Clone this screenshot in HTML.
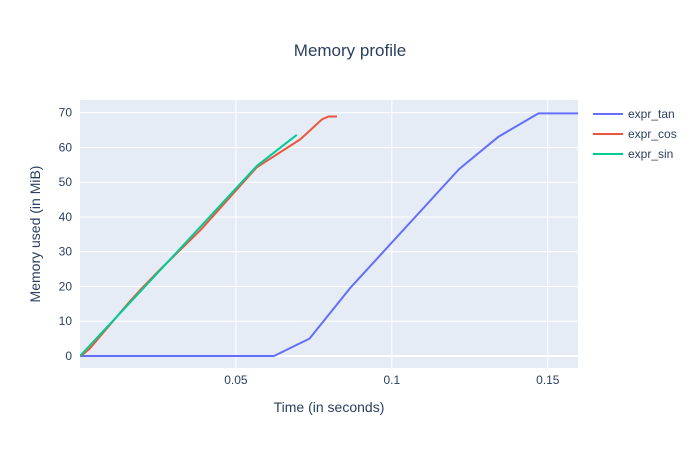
<!DOCTYPE html>
<html><head><meta charset="utf-8"><style>
body{margin:0;background:#fff;}
svg text{font-family:"Liberation Sans",sans-serif;fill:#2a3f5f;}
</style></head><body>
<svg id="chart" width="700" height="450"></svg>
<script>
const tanX=[0,0.0622,0.0736,0.0866,0.1216,0.1342,0.147,0.16];
const tanY=[0,0,5,19.5,53.8,63.1,69.8,69.8];
const cosX=[0.0003,0.003,0.0156,0.0193,0.0255,0.0386,0.0567,0.0706,0.0733,0.0776,0.0797,0.0824];
const cosY=[0,2,15.3,19,24.7,36.2,54.3,62.3,64.5,68.1,68.9,68.9];
const sinX=[0,0.0193,0.0567,0.0695];
const sinY=[0,18.5,54.7,63.6];
const xTicks=[0.05,0.1,0.15];
const xTickLabels=["0.05","0.1","0.15"];
const yTicks=[0,10,20,30,40,50,60,70];
const seriesNames=["expr_tan","expr_cos","expr_sin"];
const seriesColors=["#636efa","#EF553B","#00cc96"];

const L=80,R=578,T=100,B=368;
const xMin=0,xMax=0.1597;
const yAt0=356,pxPer10=34.76;
const sx=v=>L+(v-xMin)/(xMax-xMin)*(R-L);
const sy=v=>yAt0-v/10*pxPer10;
const NS="http://www.w3.org/2000/svg";
const svg=document.getElementById('chart');
function mk(tag,attrs,parent){const e=document.createElementNS(NS,tag);for(const k in attrs)e.setAttribute(k,attrs[k]);(parent||svg).appendChild(e);return e;}

const bg=mk('rect',{x:L,y:T,width:R-L,height:B-T,fill:'#e5ecf6'});



yTicks.forEach(t=>{
  const g=mk('line',{x1:L,x2:R,y1:sy(t),y2:sy(t),stroke:'#fff','stroke-width':t===0?2:1});
  
  
  const tx=mk('text',{x:L-8,y:sy(t)+4,'text-anchor':'end','font-size':12});
  tx.textContent=t;
  
  
});
xTicks.forEach((t,i)=>{
  const g=mk('line',{x1:sx(t),x2:sx(t),y1:T,y2:B,stroke:'#fff','stroke-width':1});
  
  
  const tx=mk('text',{x:sx(t),y:B+16,'text-anchor':'middle','font-size':12});
  tx.textContent=xTickLabels[i];
  
  
});

const clip=mk('clipPath',{id:'clip'});
mk('rect',{x:L,y:T,width:R-L,height:B-T},clip);

const data=[[tanX,tanY],[cosX,cosY],[sinX,sinY]];
data.forEach((d,i)=>{
  const pts=d[0].map((x,j)=>sx(x).toFixed(1)+','+sy(d[1][j]).toFixed(1)).join(' ');
  const p=mk('polyline',{points:pts,fill:'none',stroke:seriesColors[i],'stroke-width':2,'stroke-linejoin':'round','clip-path':'url(#clip)'});
  
  
});

seriesNames.forEach((n,i)=>{
  const y=114+i*20;
  const g=mk('g',{});
  
  
  mk('line',{x1:593,x2:623,y1:y,y2:y,stroke:seriesColors[i],'stroke-width':2},g);
  const t=mk('text',{x:628,y:y+4,'font-size':12},g);
  t.textContent=n;
});

const title=mk('text',{x:350,y:56,'text-anchor':'middle','font-size':17});
title.textContent='Memory profile';


const xt=mk('text',{x:(L+R)/2,y:412,'text-anchor':'middle','font-size':14});
xt.textContent='Time (in seconds)';


const yt=mk('text',{x:0,y:0,'text-anchor':'middle','font-size':14,transform:'translate(40,234) rotate(-90)'});
yt.textContent='Memory used (in MiB)';


</script>
</body></html>
